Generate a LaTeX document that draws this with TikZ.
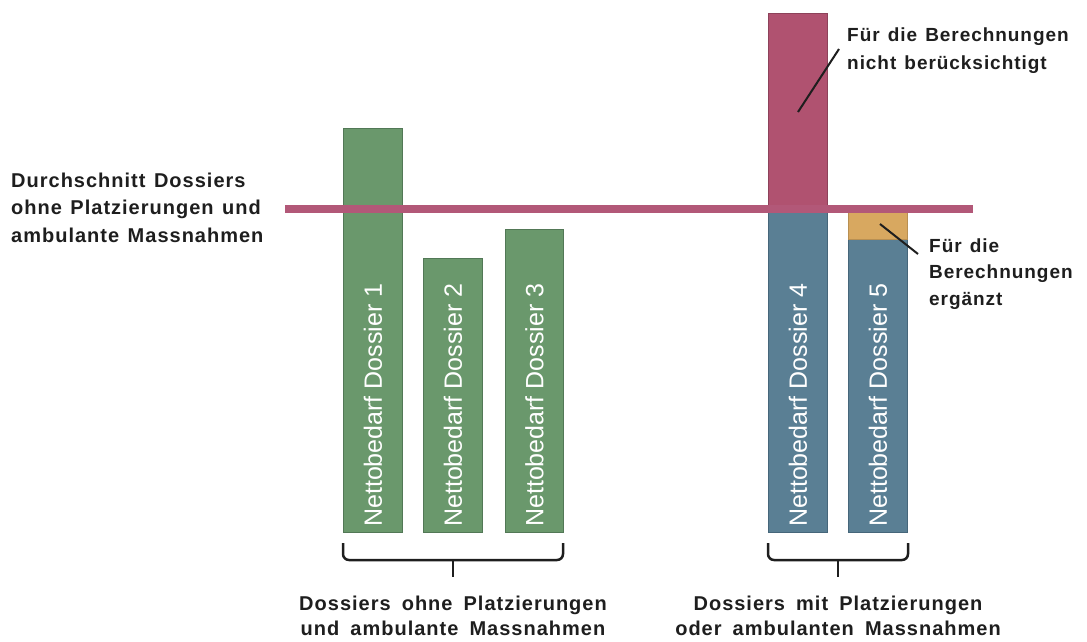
\documentclass[tikz,border=0pt]{standalone}
\usepackage{fontspec}
\setmainfont{Liberation Sans}
\newfontfamily\lblfont{Liberation Sans}[LetterSpace=5]
\newfontfamily\lblwfont{Liberation Sans}[LetterSpace=5,WordSpace=1.3]
\definecolor{barG}{RGB}{106,152,108}
\definecolor{barGd}{RGB}{82,120,86}
\definecolor{barB}{RGB}{90,127,148}
\definecolor{barBd}{RGB}{70,102,122}
\definecolor{barP}{RGB}{176,82,112}
\definecolor{barO}{RGB}{216,168,96}
\definecolor{avgP}{RGB}{178,88,120}
\definecolor{txt}{RGB}{30,30,30}
\tikzset{
  barbase/.style={rectangle, inner sep=0, anchor=south west, line width=0.8},
  greenbar/.style={barbase, fill=barG, draw=barGd},
  bluebar/.style={barbase, fill=barB, draw=barBd},
  pinkbar/.style={barbase, fill=barP, draw=barP!80!black},
  orangebar/.style={barbase, fill=barO, draw=barO!85!black},
  bartext/.style={rotate=90, anchor=west, inner sep=0, text=white, font=\fontsize{25}{30}\selectfont},
  lbl/.style={inner sep=0, text=txt, font=\lblfont\bfseries\fontsize{20}{27.5}\selectfont},
  lblr/.style={inner sep=0, text=txt, anchor=north west, align=left, font=\lblfont\bfseries\fontsize{19}{27.5}\selectfont},
  lblb/.style={inner sep=0, text=txt, align=center, anchor=north, font=\lblwfont\bfseries\fontsize{20}{25}\selectfont},
  leader/.style={line width=2, txt},
  bracepath/.style={line width=2.5, txt, rounded corners=6},
  avgline/.style={line width=8, avgP}
}
\begin{document}
\begin{tikzpicture}[x=1pt,y=-1pt]
\useasboundingbox (0,0) rectangle (1087,641);
% bars
\node[greenbar, minimum width=59, minimum height=404] (b1) at (343,533) {};
\node[greenbar, minimum width=59, minimum height=274] (b2) at (423,533) {};
\node[greenbar, minimum width=58, minimum height=303] (b3) at (505,533) {};
\node[bluebar, minimum width=59, minimum height=324] (b4) at (768,533) {};
\node[pinkbar, minimum width=59, minimum height=195] (b4p) at (768,209) {};
\node[bluebar, minimum width=59, minimum height=293] (b5) at (848,533) {};
\node[orangebar, minimum width=59, minimum height=30] (b5o) at (848,240) {};
% bar texts
\node[bartext] (t1) at ([yshift=6pt]b1.south) {Nettobedarf Dossier 1};
\node[bartext] (t2) at ([yshift=6pt]b2.south) {Nettobedarf Dossier 2};
\node[bartext] (t3) at ([yshift=6pt]b3.south) {Nettobedarf Dossier 3};
\node[bartext] (t4) at ([yshift=6pt]b4.south) {Nettobedarf Dossier 4};
\node[bartext] (t5) at ([yshift=6pt]b5.south) {Nettobedarf Dossier 5};
% average line
\coordinate (avgL) at (285,208.5);
\coordinate (avgR) at (973,208.5);
\draw[avgline] (avgL) -- (avgR);
% labels
\node[lbl, anchor=north west, align=left] (avgT) at (11,172.7) {Durchschnitt Dossiers\\ohne Platzierungen und\\ambulante Massnahmen};
\node[lblr] (notT) at (847,28) {Für die Berechnungen\\nicht berücksichtigt};
\node[lblr, font=\lblfont\bfseries\fontsize{19}{26.5}\selectfont] (addT) at (929,238.4) {Für die\\Berechnungen\\ergänzt};
% leaders
\coordinate (l1a) at (798,112);
\coordinate (l1b) at (839,49);
\draw[leader] (l1a) -- (l1b);
\coordinate (l2a) at (880,224);
\coordinate (l2b) at (918,254);
\draw[leader] (l2a) -- (l2b);
% braces
\coordinate (bL1) at (343,543);
\coordinate (bL2) at (563,543);
\coordinate (bLt) at (453,577);
\draw[bracepath] (bL1) -- (343,560) -- (563,560) -- (bL2);
\draw[line width=2.5, txt] (453,559) -- (bLt);
\coordinate (bR1) at (768,543);
\coordinate (bR2) at (908,543);
\coordinate (bRt) at (838,577);
\draw[bracepath] (bR1) -- (768,560) -- (908,560) -- (bR2);
\draw[line width=2.5, txt] (838,559) -- (bRt);
% bottom labels
\node[lblb] (grpA) at (453,596) {Dossiers ohne Platzierungen\\und ambulante Massnahmen};
\node[lblb] (grpB) at (838,596) {Dossiers mit Platzierungen\\oder ambulanten Massnahmen};
\end{tikzpicture}
\end{document}
